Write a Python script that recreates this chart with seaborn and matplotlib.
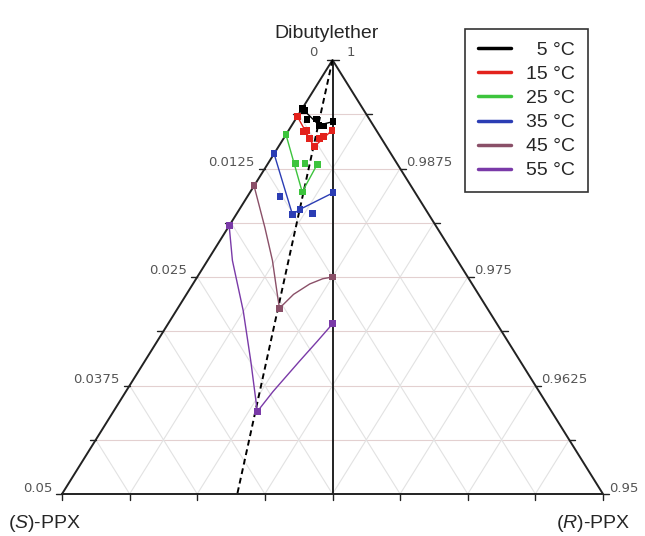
import numpy as np
import pandas as pd
import matplotlib
matplotlib.use("Agg")
import matplotlib.pyplot as plt
import seaborn as sns
from matplotlib.lines import Line2D

# legend / series
temps = ["5 °C", "15 °C", "25 °C", "35 °C", "45 °C", "55 °C"]
colors = ["#000000", "#e3221c", "#3dc43d", "#2b3db4", "#8a5068", "#7a3aa8"]

# measured points: mole fraction of dibutylether and of (S)-PPX
ether_5 = [0.9944, 0.9942, 0.9931, 0.9932, 0.9925, 0.9924, 0.9929]
xs_5 = [0.0056, 0.0055, 0.0058, 0.0049, 0.0050, 0.0046, 0.0035]
ether_15 = [0.9935, 0.9918, 0.9919, 0.9910, 0.9900, 0.9910, 0.9912, 0.9919]
xs_15 = [0.0065, 0.0068, 0.0064, 0.0066, 0.0067, 0.0057, 0.0052, 0.0041]
ether_25 = [0.9914, 0.9881, 0.9881, 0.9880, 0.9848]
xs_25 = [0.0086, 0.0094, 0.0085, 0.0074, 0.0104]
ether_35 = [0.9892, 0.9843, 0.9822, 0.9828, 0.9823, 0.9847]
xs_35 = [0.0108, 0.0127, 0.0126, 0.0116, 0.0107, 0.0076]
ether_45 = [0.9855, 0.9714, 0.9750]
xs_45 = [0.0145, 0.0192, 0.0125]
ether_55 = [0.9809, 0.9595, 0.9696]
xs_55 = [0.0191, 0.0272, 0.0152]

# solubility lines
path_ether_5 = [0.9944, 0.9925, 0.9929]
path_xs_5 = [0.0056, 0.0050, 0.0035]
path_ether_15 = [0.9935, 0.9900, 0.9919]
path_xs_15 = [0.0065, 0.0067, 0.0041]
path_ether_25 = [0.9914, 0.9848, 0.9880]
path_xs_25 = [0.0086, 0.0104, 0.0074]
path_ether_35 = [0.9892, 0.9822, 0.9828, 0.9847]
path_xs_35 = [0.0108, 0.0126, 0.0116, 0.0076]
path_ether_45 = [0.9855, 0.9807, 0.9769, 0.9730, 0.9714, 0.9730, 0.9742, 0.9748, 0.9750]
path_xs_45 = [0.0145, 0.0159, 0.0171, 0.0186, 0.0192, 0.0171, 0.0150, 0.0135, 0.0125]
path_ether_55 = [0.9809, 0.9769, 0.9711, 0.9653, 0.9595, 0.9618, 0.9653, 0.9676, 0.9696]
path_xs_55 = [0.0191, 0.0208, 0.0227, 0.0249, 0.0272, 0.0246, 0.0204, 0.0176, 0.0152]

# eutectic line
eut_ether = [1.0, 0.95]
eut_xs = [0.0, 0.0338]

left_ticks = ["0.05", "", "0.0375", "", "0.025", "", "0.0125", "", "0"]
right_ticks = ["0.95", "", "0.9625", "", "0.975", "", "0.9875", "", "1"]


def to_xy(ether, xs):
    ether = np.asarray(ether, dtype=float)
    xs = np.asarray(xs, dtype=float)
    xr = 1 - ether - xs
    t = (ether - 0.95) / 0.05
    r = xr / 0.05
    return r + t / 2, t


def make_frame(sets):
    frames = []
    for temp, (e, s) in zip(temps, sets):
        x, y = to_xy(e, s)
        frames.append(pd.DataFrame({"temp": temp, "X": x, "Y": y}))
    return pd.concat(frames, ignore_index=True)


pts = make_frame([(ether_5, xs_5), (ether_15, xs_15), (ether_25, xs_25),
                  (ether_35, xs_35), (ether_45, xs_45), (ether_55, xs_55)])
paths = make_frame([(path_ether_5, path_xs_5), (path_ether_15, path_xs_15),
                    (path_ether_25, path_xs_25), (path_ether_35, path_xs_35),
                    (path_ether_45, path_xs_45), (path_ether_55, path_xs_55)])
palette = dict(zip(temps, colors))

sns.set_style("white")
plt.rcParams["font.family"] = ["Liberation Sans", "DejaVu Sans"]
plt.rcParams["mathtext.fontset"] = "custom"
plt.rcParams["mathtext.it"] = "Liberation Sans:italic"
plt.rcParams["mathtext.rm"] = "Liberation Sans"

fig = plt.figure(figsize=(6.45, 5.36), dpi=100)
ax = fig.add_axes([62 / 645, 42 / 536, 541 / 645, 434 / 536])
ax.set_xlim(0, 1)
ax.set_ylim(0, 1)
ax.axis("off")

# grid
for k in range(1, 8):
    f = k / 8
    ax.plot([f / 2, 1 - f / 2], [f, f], color="#e3d0d0", lw=0.8, zorder=0)
    ax.plot([f, f + (1 - f) / 2], [0, 1 - f], color="#e2e2e2", lw=0.8, zorder=0)
    ax.plot([1 - f, (1 - f) / 2], [0, 1 - f], color="#e2e2e2", lw=0.8, zorder=0)

# frame, racemic line, ticks
ax.plot([0, 0.5, 1, 0], [0, 1, 0, 0], color="#222222", lw=1.4, clip_on=False, zorder=2)
ax.plot([0.5, 0.5], [0, 1], color="#222222", lw=1.4, zorder=2)
px, py = 1 / 541, 1 / 434
for k in range(9):
    f = k / 8
    ax.plot([f / 2, f / 2 - 6 * px], [f, f], color="#222222", lw=1, clip_on=False)
    ax.plot([1 - f / 2, 1 - f / 2 + 6 * px], [f, f], color="#222222", lw=1, clip_on=False)
    ax.plot([f, f], [0, -6 * py], color="#222222", lw=1, clip_on=False)

lab = dict(textcoords="offset points", va="center", fontsize=9.5, color="#555555",
           family="DejaVu Sans", annotation_clip=False)
for k in range(9):
    f = k / 8
    if left_ticks[k]:
        if k == 8:
            ax.annotate(left_ticks[k], (0.5, 1), xytext=(-19 * 0.72, 7 * 0.72), ha="center", **lab)
        else:
            ax.annotate(left_ticks[k], (f / 2, f), xytext=(-10 * 0.72, 6 * 0.72), ha="right", **lab)
    if right_ticks[k]:
        if k == 8:
            ax.annotate(right_ticks[k], (0.5, 1), xytext=(18 * 0.72, 7 * 0.72), ha="center", **lab)
        else:
            ax.annotate(right_ticks[k], (1 - f / 2, f), xytext=(6 * 0.72, 6 * 0.72), ha="left", **lab)

# eutectic line
ex, ey = to_xy(eut_ether, eut_xs)
ax.plot(ex, ey, color="black", lw=1.4, ls=(0, (3, 2)), zorder=3)

sns.lineplot(data=paths, x="X", y="Y", hue="temp", hue_order=temps, palette=palette,
             sort=False, estimator=None, lw=1, legend=False, ax=ax, zorder=3)
sns.scatterplot(data=pts, x="X", y="Y", hue="temp", hue_order=temps, palette=palette,
                marker="s", s=24, linewidth=0, legend=False, ax=ax, zorder=4)

handles = [Line2D([], [], color=c, lw=2.5) for c in colors]
labels = ["  5 °C"] + temps[1:]
leg = ax.legend(handles, labels, loc="upper left", bbox_to_anchor=(465 / 645, 1 - 29 / 536),
                bbox_transform=fig.transFigure, frameon=True, fancybox=False,
                edgecolor="black", fontsize=14, handlelength=1.7, handletextpad=0.8,
                labelspacing=0.33, borderpad=0.65, borderaxespad=0)
leg.get_frame().set_linewidth(1.2)

fig.text(327 / 645, 1 - 33 / 536, "Dibutylether", ha="center", va="center", fontsize=14)
fig.text(8 / 645, 1 - 523 / 536, "($\\mathit{S}$)-PPX", ha="left", va="center", fontsize=14)
fig.text(630 / 645, 1 - 523 / 536, "($\\mathit{R}$)-PPX", ha="right", va="center", fontsize=14)

fig.savefig("out.png", dpi=100)
